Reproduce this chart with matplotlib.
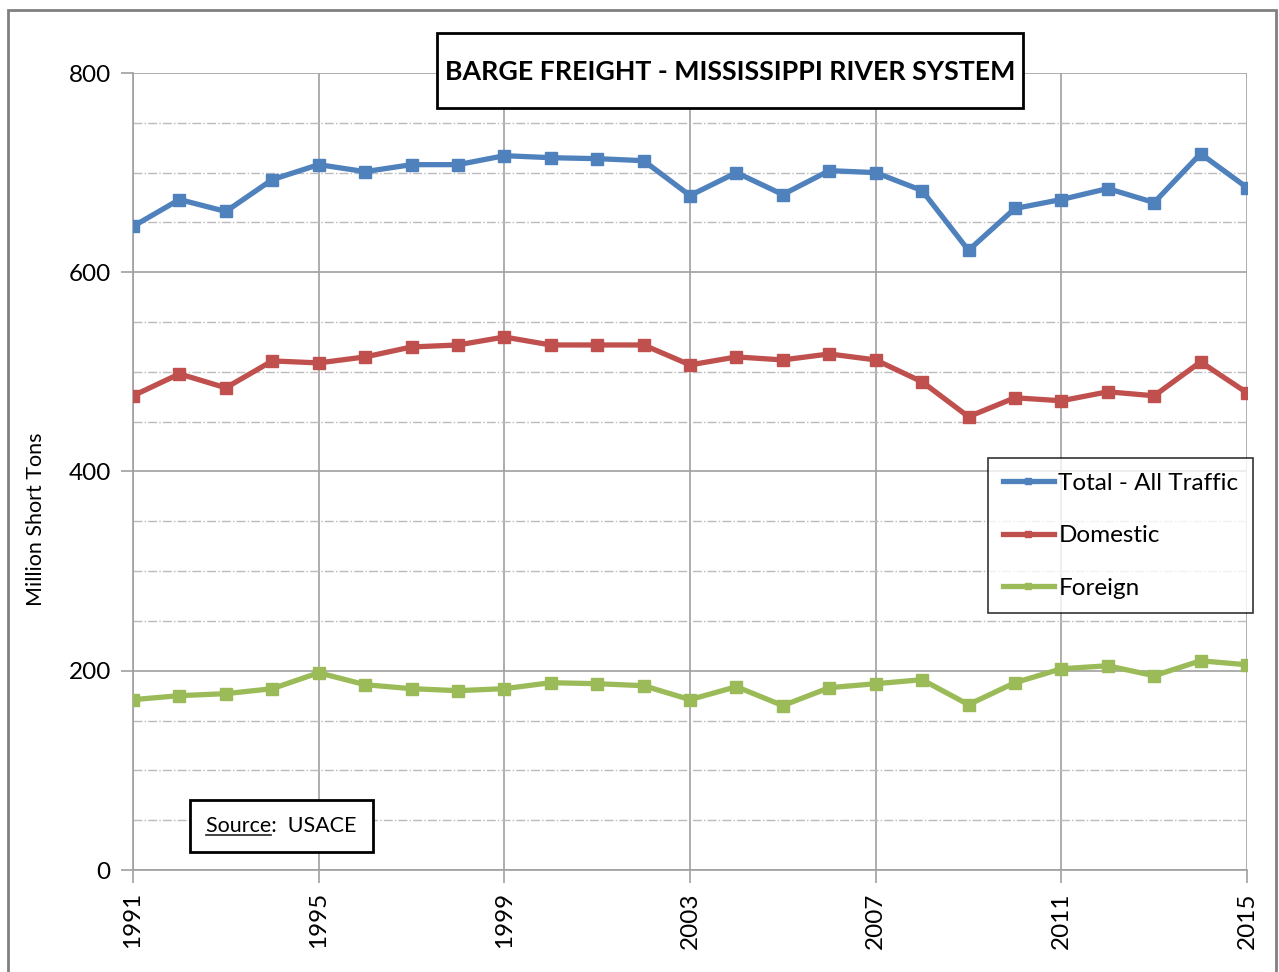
import matplotlib
matplotlib.use('Agg')
import matplotlib.pyplot as plt
from matplotlib.patches import Rectangle
from matplotlib.lines import Line2D
from matplotlib.ticker import MultipleLocator
import numpy as np

plt.rcParams['font.family'] = ['Lato', 'DejaVu Sans']

# data (million short tons)
years = list(range(1991, 2016))
total = [646, 673, 661, 693, 708, 701, 708, 708, 717, 715, 714, 712, 677,
         700, 678, 702, 700, 682, 622, 664, 673, 684, 670, 719, 685]
domestic = [476, 498, 484, 511, 509, 515, 525, 527, 535, 527, 527, 527, 507,
            515, 512, 518, 512, 490, 455, 474, 471, 480, 476, 510, 479]
foreign = [171, 175, 177, 182, 198, 186, 182, 180, 182, 188, 187, 185, 171,
           184, 165, 183, 187, 191, 166, 188, 202, 205, 195, 210, 206]
xticks = [1991, 1995, 1999, 2003, 2007, 2011, 2015]

W, H = 1279, 972
fig = plt.figure(figsize=(W/100, H/100), dpi=100)
ax = fig.add_axes([133/W, 1 - 870/H, (1247-133)/W, (870-73)/H])

# outer frame of the chart area
fig.patches.append(Rectangle((8/W, -0.05), (1276-8)/W, 1.05 - 10/H,
                             transform=fig.transFigure, fill=False,
                             edgecolor='#808080', linewidth=2))

ax.plot(years, total, color='#4F81BD', lw=3.8, marker='s', ms=8, label='Total - All Traffic', zorder=5)
ax.plot(years, domestic, color='#C0504D', lw=3.8, marker='s', ms=8, label='Domestic', zorder=5)
ax.plot(years, foreign, color='#9BBB59', lw=3.8, marker='s', ms=8, label='Foreign', zorder=5)

ax.set_xlim(1991, 2015)
ax.set_ylim(0, 800)
ax.set_xticks(xticks)
ax.set_xticklabels([str(y) for y in xticks], rotation=90)
ax.yaxis.set_major_locator(MultipleLocator(200))
ax.yaxis.set_minor_locator(MultipleLocator(50))

ax.grid(True, which='major', color='#A0A0A0', lw=1.2)
ax.grid(True, which='minor', axis='y', color='#BBBBBB', lw=1.0, linestyle='-.')
ax.set_axisbelow(True)
for s in ['top', 'right']:
    ax.spines[s].set_visible(False)
for s in ['left', 'bottom']:
    ax.spines[s].set_color('#A0A0A0')
    ax.spines[s].set_linewidth(1.2)
ax.tick_params(axis='both', which='major', length=9, width=1.2, color='#A0A0A0',
               labelsize=17.5, pad=7)
ax.tick_params(axis='y', which='minor', length=0)

ax.set_ylabel('Million Short Tons', fontsize=15.5)
ax.yaxis.set_label_coords(-0.078, 0.44)

# title box (straddles the top of the plot area)
fig.patches.append(Rectangle((437/W, 1 - 108/H), (1023-437)/W, 75/H,
                             transform=fig.transFigure, fc='white', ec='black',
                             lw=2, zorder=10))
fig.text(730/W, 1 - 72/H, 'BARGE FREIGHT - MISSISSIPPI RIVER SYSTEM',
         ha='center', va='center', fontsize=19.3, fontweight='bold', zorder=11)

src = ax.text(0.133, 0.055, 'Source:  USACE', transform=ax.transAxes,
              ha='center', va='center', fontsize=15.5, zorder=10,
              bbox=dict(boxstyle='square,pad=0.75', fc='white', ec='black', lw=2))
# underline the word "Source"
fig.canvas.draw()
r = fig.canvas.get_renderer()
full = src.get_window_extent(r)
word = ax.text(0, 0, 'Source', fontsize=15.5, alpha=0)
we = word.get_window_extent(r)
inv = fig.transFigure.inverted()
(x0, y0), (x1, _) = inv.transform([(full.x0, full.y0 + 1), (full.x0 + we.width, full.y0 + 1)])
fig.lines.append(Line2D([x0, x1], [y0, y0], transform=fig.transFigure,
                        color='#222222', lw=1.2, zorder=20))

leg = ax.legend(loc='upper left', bbox_to_anchor=((988-133)/1114, (870-458)/797),
                borderaxespad=0, fontsize=17.5, frameon=True, fancybox=False,
                handlelength=2.1, labelspacing=1.3, borderpad=0.6,
                handletextpad=0.2, markerscale=0.6)
leg.get_frame().set_edgecolor('black')
leg.get_frame().set_linewidth(1.2)
leg.set_zorder(10)

fig.savefig('out.png', dpi=100)
